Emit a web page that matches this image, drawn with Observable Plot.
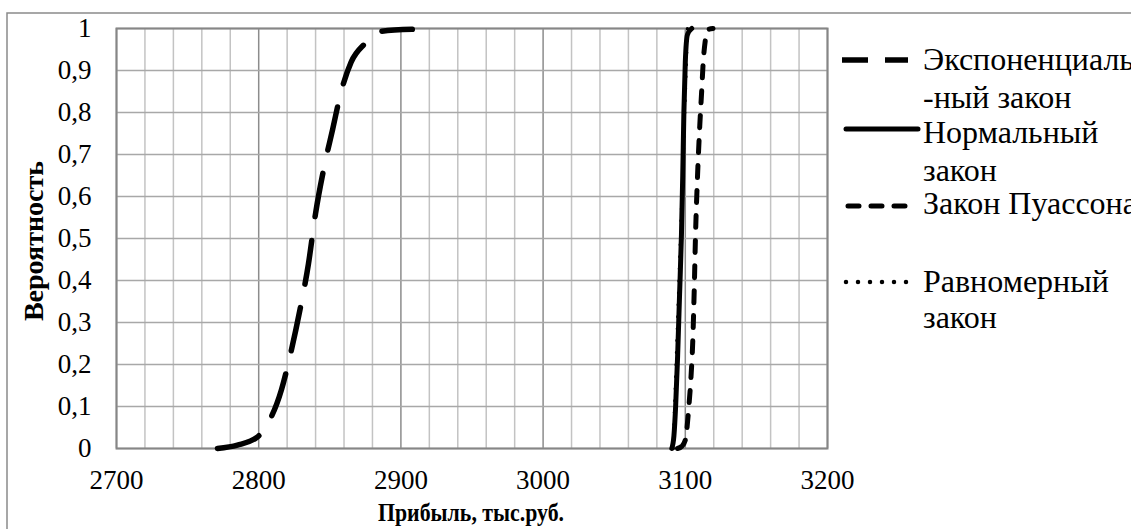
<!DOCTYPE html>
<html><head><meta charset="utf-8">
<script src="https://cdn.jsdelivr.net/npm/d3@7"></script>
<script src="https://cdn.jsdelivr.net/npm/@observablehq/plot@0.6"></script>
<style>
body{margin:0;background:#fff;}
#chart{position:relative;width:1131px;height:529px;overflow:hidden;}
#chart svg text{font-family:'Liberation Serif','Times New Roman',serif !important;}
</style></head><body><div id="chart"></div>
<script>
// ---- data ----
const xTicks = [2700, 2800, 2900, 3000, 3100, 3200];
const yTicks = [0, 0.1, 0.2, 0.3, 0.4, 0.5, 0.6, 0.7, 0.8, 0.9, 1];
const xMinorGrid = [2720, 2740, 2760, 2780, 2820, 2840, 2860, 2880, 2920, 2940, 2960, 2980, 3020, 3040, 3060, 3080, 3120, 3140, 3160, 3180];

const seriesNames = ["Экспоненциальный закон", "Нормальный закон", "Закон Пуассона", "Равномерный закон"];

const expX = [2771, 2785, 2799, 2807, 2816, 2822, 2829, 2835, 2840, 2846, 2852, 2858, 2865, 2875, 2885, 2908];
const expY = [0, 0.008, 0.027, 0.063, 0.14, 0.22, 0.33, 0.44, 0.56, 0.67, 0.76, 0.85, 0.92, 0.965, 0.993, 0.998];

const normX = [3090.5, 3092, 3093.2, 3094.6, 3096, 3097.3, 3098.2, 3099, 3100, 3101.5, 3104.5];
const normY = [0, 0.03, 0.1, 0.22, 0.37, 0.51, 0.65, 0.8, 0.92, 0.985, 1];

const poisX = [3094.5, 3097.5, 3100, 3102.5, 3104, 3105.3, 3106.3, 3107.2, 3108.5, 3110.2, 3111.5, 3112.6, 3114, 3115.8, 3119.5];
const poisY = [0, 0.005, 0.02, 0.1, 0.17, 0.26, 0.38, 0.51, 0.64, 0.77, 0.85, 0.92, 0.97, 0.997, 1];

const unifX = [3091.5, 3096.6, 3101.5];
const unifY = [0, 0.5, 1];

// ---- build ----
const zip = (xs, ys) => xs.map((x, i) => ({x, y: ys[i]}));
const expRows = zip(expX, expY), normRows = zip(normX, normY), poisRows = zip(poisX, poisY), unifRows = zip(unifX, unifY);

const FONT = "'Liberation Serif','Times New Roman',serif";
const fmtY = d => String(+d.toFixed(1)).replace(".", ",");

const svg = Plot.plot({
  width: 1131, height: 529,
  marginLeft: 116, marginRight: 304, marginTop: 28, marginBottom: 81,
  style: {fontFamily: FONT, fontSize: "26px", color: "#000", background: "#fff", overflow: "visible"},
  x: {domain: [2700, 3200]},
  y: {domain: [0, 1]},
  marks: [
    Plot.ruleX(xMinorGrid, {stroke: "#c3c3c3", strokeWidth: 1.5}),
    Plot.ruleX(xTicks, {stroke: "#8c8c8c", strokeWidth: 1.5}),
    Plot.ruleY(yTicks, {stroke: "#a8a8a8", strokeWidth: 1.5}),
    Plot.frame({stroke: "#868686", strokeWidth: 2}),
    Plot.axisX({ticks: xTicks, tickSize: 0, tickPadding: 21, label: null, tickFormat: d => String(d), fontSize: 27}),
    Plot.axisY({ticks: yTicks, tickSize: 0, tickPadding: 25, label: null, tickFormat: fmtY, fontSize: 27}),
    Plot.line(unifRows, {x: "x", y: "y", curve: "monotone-x", stroke: "#000", strokeWidth: 3.5, strokeDasharray: "0,12", strokeLinecap: "round"}),
    Plot.line(expRows, {x: "x", y: "y", curve: "monotone-x", stroke: "#000", strokeWidth: 5.5, strokeDasharray: "44,24", strokeLinecap: "round"}),
    Plot.line(poisRows, {x: "x", y: "y", curve: "monotone-x", stroke: "#000", strokeWidth: 5, strokeDasharray: "12,13", strokeLinecap: "round"}),
    Plot.line(normRows, {x: "x", y: "y", curve: "monotone-x", stroke: "#000", strokeWidth: 5, strokeLinecap: "round"})
  ]
});

const s = d3.select(svg);
// outer chart border
s.insert("rect", ":first-child")
  .attr("x", 7).attr("y", 13).attr("width", 1300).attr("height", 700)
  .attr("fill", "none").attr("stroke", "#8a8a8a").attr("stroke-width", 1.5);

// axis titles
s.append("text").attr("x", 471).attr("y", 512).attr("dy", "0.35em")
  .attr("text-anchor", "middle").attr("font-weight", "bold").attr("font-size", 26)
  .attr("textLength", 186).attr("lengthAdjust", "spacingAndGlyphs")
  .attr("fill", "#000").text("Прибыль, тыс.руб.");
s.append("text").attr("transform", "translate(33,241) rotate(-90)").attr("dy", "0.35em")
  .attr("text-anchor", "middle").attr("font-weight", "bold").attr("font-size", 28)
  .attr("fill", "#000").text("Вероятность");

// legend
const lg = s.append("g").attr("font-size", 32).attr("fill", "#000").attr("text-anchor", "start");
const legendItems = [
  {sy: 60, dash: "26,17", w: 5.5, cap: "butt", x1: 842, x2: 908, lines: [["Экспоненциаль", 59], ["-ный закон", 97]]},
  {sy: 129, dash: null, w: 5, cap: "round", x1: 846, x2: 918, lines: [["Нормальный", 132], ["закон", 170]]},
  {sy: 206, dash: "11,12", w: 5, cap: "round", x1: 848, x2: 906, lines: [["Закон Пуассона", 203]]},
  {sy: 282, dash: "0,12", w: 4.5, cap: "round", x1: 846, x2: 907, lines: [["Равномерный", 281], ["закон", 317]]}
];
legendItems.forEach((it, i) => {
  const g = lg.append("g");
  g.append("title").text(seriesNames[i]);
  const l = g.append("line").attr("x1", it.x1).attr("x2", it.x2).attr("y1", it.sy).attr("y2", it.sy)
    .attr("stroke", "#000").attr("stroke-width", it.w).attr("stroke-linecap", it.cap);
  if (it.dash) l.attr("stroke-dasharray", it.dash);
  it.lines.forEach(([t, y]) => {
    g.append("text").attr("x", 923).attr("y", y).attr("dy", "0.35em").attr("text-anchor", "start").text(t);
  });
});
s.selectAll("text").attr("font-family", FONT);

document.getElementById("chart").appendChild(svg);
</script>
</body></html>
